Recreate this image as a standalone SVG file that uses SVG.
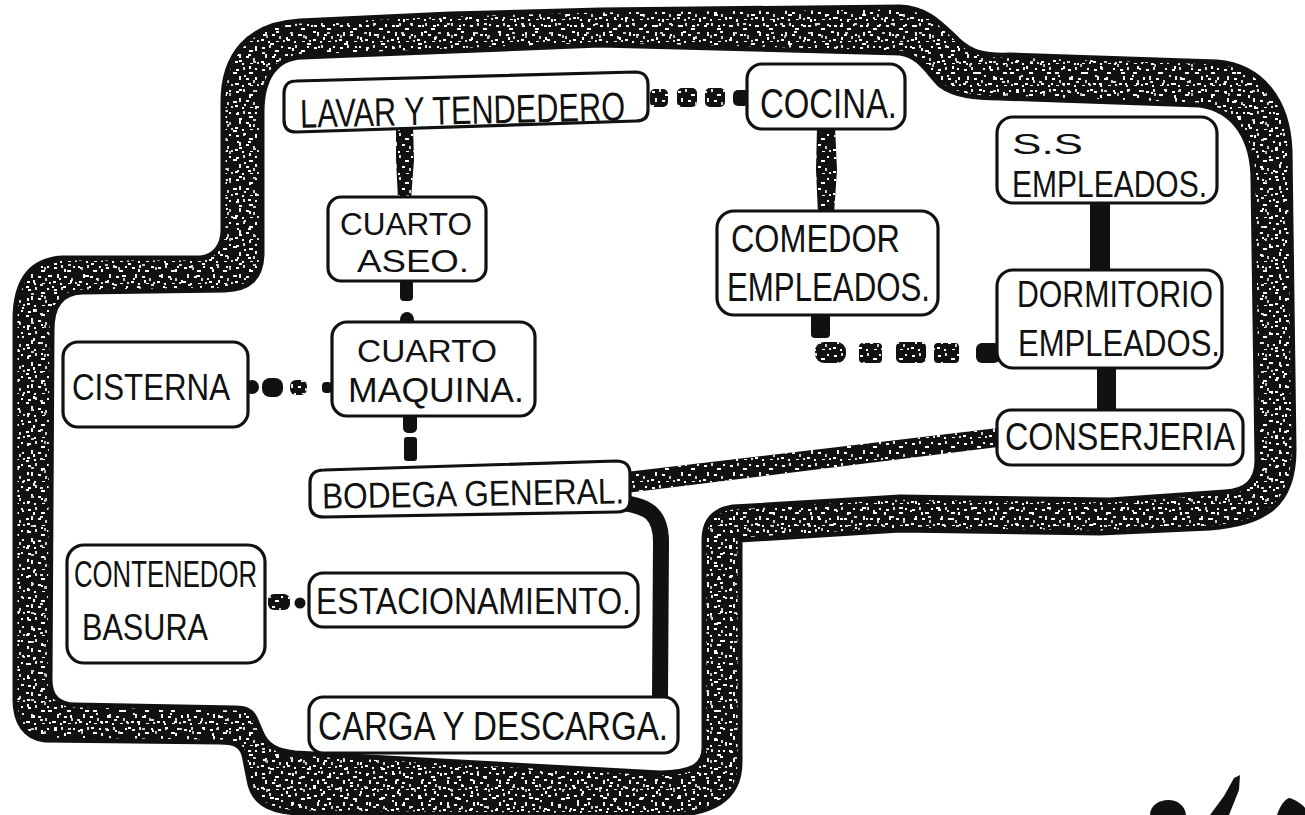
<svg xmlns="http://www.w3.org/2000/svg" width="1305" height="815" viewBox="0 0 1305 815">
  <defs>
    <pattern id="tex" patternUnits="userSpaceOnUse" width="26" height="22">
      <rect x="2" y="3" width="3" height="2" fill="#fff"/>
      <rect x="9" y="1" width="2" height="3" fill="#ddd"/>
      <rect x="15" y="6" width="4" height="2" fill="#fff"/>
      <rect x="21" y="2" width="2" height="2" fill="#fff"/>
      <rect x="5" y="10" width="2" height="4" fill="#eee"/>
      <rect x="12" y="12" width="3" height="2" fill="#fff"/>
      <rect x="19" y="14" width="2" height="3" fill="#ccc"/>
      <rect x="1" y="17" width="3" height="2" fill="#fff"/>
      <rect x="8" y="19" width="2" height="2" fill="#fff"/>
      <rect x="23" y="18" width="2" height="2" fill="#ddd"/>
      <rect x="16" y="19" width="3" height="1" fill="#fff"/>
    </pattern>
    <pattern id="tex2" patternUnits="userSpaceOnUse" width="37" height="29">
      <rect x="4" y="5" width="2" height="2" fill="#fff"/>
      <rect x="7" y="6" width="2" height="3" fill="#bbb"/>
      <rect x="17" y="2" width="3" height="2" fill="#fff"/>
      <rect x="27" y="8" width="2" height="3" fill="#fff"/>
      <rect x="31" y="3" width="3" height="2" fill="#ccc"/>
      <rect x="11" y="14" width="4" height="2" fill="#fff"/>
      <rect x="22" y="17" width="2" height="2" fill="#eee"/>
      <rect x="33" y="19" width="2" height="3" fill="#fff"/>
      <rect x="3" y="23" width="3" height="2" fill="#ddd"/>
      <rect x="15" y="25" width="2" height="2" fill="#fff"/>
      <rect x="26" y="25" width="3" height="2" fill="#fff"/>
    </pattern>
    <path id="bandD" fill-rule="evenodd" d="M 223,105 C 222,55 248,24 300,21 L 450,14 L 600,10 L 900,7 C 928,8 942,25 958,40 C 972,53 985,56 1010,55 L 1217,62 C 1262,66 1288,100 1290,150 L 1294,450 C 1294,505 1265,524 1210,528 L 1100,533 L 900,530 L 740,540 L 740,762 C 740,800 712,815 660,816 L 300,813 C 266,812 252,800 249,780 L 244,755 C 241,744 233,742 220,742 L 45,740 C 25,738 15,722 15,700 L 15,320 C 15,282 30,260 62,258 L 200,258 C 214,257 223,246 223,230 Z M 262,112 C 262,78 276,58 302,57 L 600,45 L 900,53 C 920,56 927,72 940,85 C 955,96 975,98 1000,98 L 1200,105 C 1235,110 1253,140 1253,180 L 1257,460 C 1257,482 1245,491 1225,492 L 1110,500 L 900,497 L 733,507 C 713,510 704,522 704,540 L 704,748 C 704,766 690,773 660,773 L 295,753 C 276,751 266,745 261,732 L 255,718 C 251,710 245,708 235,708 L 75,705 C 58,705 50,695 50,680 L 52,330 C 52,306 61,293 82,292 L 225,290 C 250,289 261,278 262,255 Z"/>
    <style>
      .box { fill: #fff; stroke: #111; stroke-width: 3.2; stroke-linejoin: round; }
      .lbl { font-family: "Liberation Sans", Arial, sans-serif; fill: #111; }
      .ink { fill: #111; }
      .tx { fill: url(#tex); }
      .band-edge { fill: none; stroke: #111; stroke-width: 5; stroke-linejoin: round; }
    </style>
  </defs>

  <rect width="1305" height="815" fill="#fff"/>

  <!-- boundary band -->
  <g id="boundary">
    <use href="#bandD" fill="#111"/>
    <use href="#bandD" fill="url(#tex)"/>
    <use href="#bandD" fill="url(#tex2)"/>
    <use href="#bandD" class="band-edge"/>
  </g>

  <!-- connectors -->
  <g id="connectors">
    <!-- LAVAR - COCINA -->
    <rect class="ink" x="650" y="89" width="18" height="18" rx="5"/>
    <rect class="ink" x="677" y="88" width="20" height="19" rx="5"/>
    <rect class="ink" x="705" y="88" width="20" height="19" rx="5"/>
    <rect class="ink" x="733" y="90" width="16" height="16" rx="5"/>
    <rect class="tx" x="650" y="89" width="18" height="18" rx="5"/>
    <rect class="tx" x="677" y="88" width="20" height="19" rx="5"/>
    <rect class="tx" x="705" y="88" width="20" height="19" rx="5"/>
    <!-- LAVAR - ASEO -->
    <path class="ink" d="M 396,126 L 413,126 L 414,160 L 411,199 L 398,199 L 396,160 Z"/>
    <path class="tx" d="M 396,126 L 413,126 L 414,160 L 411,199 L 398,199 L 396,160 Z"/>
    <!-- ASEO - MAQUINA -->
    <rect class="ink" x="400" y="280" width="13" height="21" rx="4"/>
    <ellipse class="ink" cx="407" cy="320" rx="7" ry="8"/>
    <!-- CISTERNA - MAQUINA -->
    <circle class="ink" cx="252" cy="387" r="7"/>
    <rect class="ink" x="262" y="378" width="21" height="19" rx="8"/>
    <rect class="ink" x="290" y="380" width="17" height="15" rx="6"/>
    <rect class="tx" x="290" y="380" width="17" height="15" rx="6"/>
    <rect class="ink" x="322" y="382" width="10" height="11" rx="4"/>
    <!-- MAQUINA - BODEGA -->
    <rect class="ink" x="403" y="413" width="14" height="20" rx="5"/>
    <rect class="ink" x="404" y="437" width="13" height="24" rx="3"/>
    <!-- BODEGA - CONSERJERIA -->
    <path class="ink" d="M 626,472 L 998,428 L 998,447 L 626,493 Z"/>
    <path class="tx" d="M 626,472 L 998,428 L 998,447 L 626,493 Z"/>
    <!-- BODEGA - CARGA -->
    <path d="M 622,503 C 650,506 661,516 661,542 L 660,697" fill="none" stroke="#111" stroke-width="16" stroke-linecap="round"/>
    <!-- CONTENEDOR - ESTACIONAMIENTO -->
    <rect class="ink" x="268" y="594" width="22" height="16" rx="6"/>
    <rect class="tx" x="268" y="594" width="22" height="16" rx="6"/>
    <circle class="ink" cx="300" cy="603" r="5.5"/>
    <!-- COCINA - COMEDOR -->
    <path class="ink" d="M 817,127 L 835,127 L 837,170 L 834,214 L 818,214 L 816,170 Z"/>
    <path class="tx" d="M 817,127 L 835,127 L 837,170 L 834,214 L 818,214 L 816,170 Z"/>
    <!-- COMEDOR - DORMITORIO -->
    <rect class="ink" x="811" y="312" width="19" height="26" rx="4"/>
    <rect class="ink" x="815" y="342" width="31" height="21" rx="9"/>
    <rect class="ink" x="859" y="343" width="23" height="20" rx="4"/>
    <rect class="ink" x="896" y="342" width="30" height="21" rx="5"/>
    <rect class="ink" x="934" y="343" width="25" height="20" rx="4"/>
    <rect class="ink" x="976" y="343" width="24" height="20" rx="6"/>
    <rect class="tx" x="815" y="342" width="31" height="21" rx="9"/>
    <rect class="tx" x="859" y="343" width="23" height="20" rx="4"/>
    <rect class="tx" x="896" y="342" width="30" height="21" rx="5"/>
    <rect class="tx" x="934" y="343" width="25" height="20" rx="4"/>
    <!-- S.S - DORMITORIO -->
    <rect class="ink" x="1090" y="200" width="20" height="72"/>
    <!-- DORMITORIO - CONSERJERIA -->
    <rect class="ink" x="1097" y="366" width="19" height="46"/>
  </g>

  <!-- nodes -->
  <g id="n-lavar">
    <path class="box" d="M 296,81 L 635,72 Q 648,72 648,85 L 648,110 Q 648,121 636,121 L 296,132 Q 284,132 284,120 L 284,94 Q 284,81 296,81 Z"/>
    <text class="lbl" x="300" y="124" font-size="40" textLength="325" lengthAdjust="spacingAndGlyphs" transform="rotate(-1.3 462 110)">LAVAR Y TENDEDERO</text>
  </g>
  <g id="n-cocina">
    <rect class="box" x="747" y="64" width="158" height="65" rx="15"/>
    <text class="lbl" x="760" y="118" font-size="42" textLength="137" lengthAdjust="spacingAndGlyphs">COCINA.</text>
  </g>
  <g id="n-aseo">
    <rect class="box" x="328" y="197" width="158" height="84" rx="13"/>
    <text class="lbl" x="340" y="235" font-size="32" textLength="132" lengthAdjust="spacingAndGlyphs">CUARTO</text>
    <text class="lbl" x="357" y="272" font-size="32" textLength="112" lengthAdjust="spacingAndGlyphs">ASEO.</text>
  </g>
  <g id="n-maquina">
    <rect class="box" x="332" y="322" width="203" height="94" rx="15"/>
    <text class="lbl" x="357" y="362" font-size="32" textLength="140" lengthAdjust="spacingAndGlyphs">CUARTO</text>
    <text class="lbl" x="348" y="402" font-size="35" textLength="176" lengthAdjust="spacingAndGlyphs">MAQUINA.</text>
  </g>
  <g id="n-cisterna">
    <rect class="box" x="63" y="342" width="185" height="85" rx="15"/>
    <text class="lbl" x="72" y="400" font-size="36" textLength="158" lengthAdjust="spacingAndGlyphs">CISTERNA</text>
  </g>
  <g id="n-bodega">
    <path class="box" d="M 324,470 L 616,461 Q 630,461 630,474 L 630,500 Q 630,512 617,512 L 324,517 Q 310,517 310,504 L 310,483 Q 310,470 324,470 Z"/>
    <text class="lbl" x="322" y="506" font-size="36" textLength="302" lengthAdjust="spacingAndGlyphs" transform="rotate(-1 470 492)">BODEGA GENERAL.</text>
  </g>
  <g id="n-conserjeria">
    <rect class="box" x="997" y="410" width="246" height="55" rx="14"/>
    <text class="lbl" x="1005" y="450" font-size="38" textLength="230" lengthAdjust="spacingAndGlyphs">CONSERJERIA</text>
  </g>
  <g id="n-contenedor">
    <rect class="box" x="67" y="545" width="198" height="118" rx="17"/>
    <text class="lbl" x="74" y="587" font-size="37" textLength="183" lengthAdjust="spacingAndGlyphs">CONTENEDOR</text>
    <text class="lbl" x="82" y="640" font-size="37" textLength="126" lengthAdjust="spacingAndGlyphs">BASURA</text>
  </g>
  <g id="n-estacionamiento">
    <rect class="box" x="309" y="573" width="329" height="54" rx="14"/>
    <text class="lbl" x="316" y="614" font-size="37" textLength="315" lengthAdjust="spacingAndGlyphs">ESTACIONAMIENTO.</text>
  </g>
  <g id="n-carga">
    <rect class="box" x="309" y="697" width="369" height="56" rx="14"/>
    <text class="lbl" x="318" y="740" font-size="40" textLength="350" lengthAdjust="spacingAndGlyphs">CARGA Y DESCARGA.</text>
  </g>
  <g id="n-comedor">
    <rect class="box" x="717" y="211" width="221" height="104" rx="17"/>
    <text class="lbl" x="731" y="252" font-size="38" textLength="169" lengthAdjust="spacingAndGlyphs">COMEDOR</text>
    <text class="lbl" x="727" y="301" font-size="41" textLength="203" lengthAdjust="spacingAndGlyphs">EMPLEADOS.</text>
  </g>
  <g id="n-ss">
    <rect class="box" x="997" y="117" width="220" height="86" rx="16"/>
    <text class="lbl" x="1012" y="154" font-size="30" textLength="71" lengthAdjust="spacingAndGlyphs">S.S</text>
    <text class="lbl" x="1012" y="197" font-size="37" textLength="195" lengthAdjust="spacingAndGlyphs">EMPLEADOS.</text>
  </g>
  <g id="n-dormitorio">
    <rect class="box" x="997" y="270" width="225" height="98" rx="16"/>
    <text class="lbl" x="1017" y="307" font-size="37" textLength="196" lengthAdjust="spacingAndGlyphs">DORMITORIO</text>
    <text class="lbl" x="1018" y="356" font-size="36" textLength="202" lengthAdjust="spacingAndGlyphs">EMPLEADOS.</text>
  </g>

  <!-- signature fragment, bottom right -->
  <g id="signature" fill="#111">
    <path d="M 1150,815 C 1150,805 1160,800 1168,800 C 1178,800 1185,806 1186,815 Z"/>
    <path d="M 1210,815 L 1224,796 L 1234,778 L 1240,775 L 1239,790 L 1229,815 Z"/>
    <path d="M 1277,815 C 1280,805 1286,798 1290,798 C 1296,800 1303,805 1305,808 L 1305,815 Z"/>
  </g>
</svg>
